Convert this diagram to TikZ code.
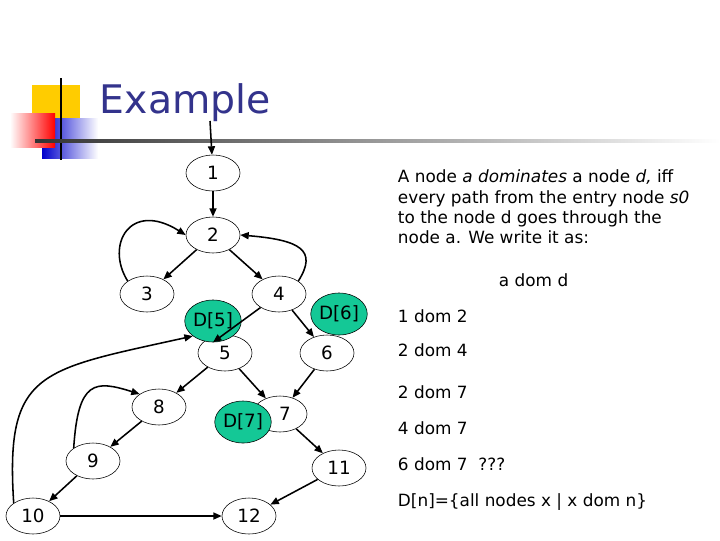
\documentclass[tikz,border=0pt]{standalone}
\usepackage{fontspec}
\setmainfont{DejaVu Sans}
\usetikzlibrary{arrows.meta,shapes.geometric}
\definecolor{titleblue}{RGB}{51,51,140}
\definecolor{domgreen}{RGB}{20,200,150}
\definecolor{logoyellow}{RGB}{255,204,0}
\tikzset{
  blk/.style={ellipse,draw,minimum width=1.35cm,minimum height=0.9cm,inner sep=0pt,font=\fontsize{13}{15}\selectfont},
  dombox/.style={ellipse,draw,fill=domgreen,minimum width=1.35cm,minimum height=1.05cm,inner sep=0pt,font=\fontsize{13}{15}\selectfont},
  edge/.style={-{Triangle[width=5pt,length=6pt]},line width=1.1pt},
  txt/.style={anchor=west,font=\fontsize{12}{14.5}\selectfont}
}
\begin{document}
\begin{tikzpicture}[x=0.025cm,y=-0.025cm]
  \useasboundingbox (0,0) rectangle (720,540);
  % logo and title bar
  \fill[logoyellow] (32,85) rectangle (80,120);
  \shade[left color=blue!80!black,right color=white] (42,118) rectangle (98,158);
  \shade[left color=white,right color=red] (10,113) rectangle (55,147);
  \draw[line width=1.3pt] (61,78) -- (61,160);
  \shade[left color=black!80,right color=white] (35,139.5) rectangle (720,142.5);
  \node[anchor=west,text=titleblue,font=\fontsize{28}{32}\selectfont] (title) at (95,103) {Example};
  % graph nodes
  \node[blk] (n1) at (213,173) {1};
  \node[blk] (n2) at (213,235) {2};
  \node[blk] (n3) at (147,294) {3};
  \node[blk] (n4) at (279,294) {4};
  \node[blk] (n5) at (225,353) {5};
  \node[blk] (n6) at (327,353) {6};
  \node[blk] (n8) at (159,407) {8};
  \node[blk] (n7) at (280,414) {\hspace*{0.25cm}7};
  \node[blk] (n9) at (93,461) {9};
  \node[blk] (n11) at (339,468) {11};
  \node[blk] (n10) at (33,516) {10};
  \node[blk] (n12) at (249,516) {12};
  % dominator sets
  \node[dombox] (d5) at (213,321) {D[5]};
  \node[dombox] (d6) at (339,314) {D[6]};
  \node[dombox] (d7) at (243,422) {D[7]};
  % edges
  \coordinate (entry) at (210,121);
  \draw[edge] (entry) -- (n1);
  \draw[edge] (n1) -- (n2);
  \draw[edge] (n2) -- (n3);
  \draw[edge] (n2) -- (n4);
  \draw[edge] (n3.north west) .. controls (105,245) and (130,200) .. (n2.west);
  \draw[edge] (n4.north east) .. controls (318,250) and (300,240) .. (n2.east);
  \draw[edge] (n4) -- (d5.south);
  \draw[edge] (n4) -- (n6);
  \draw[edge] (n5) -- (n8);
  \draw[edge] (n5) -- (n7);
  \draw[edge] (n6) -- (n7);
  \draw[edge] (n8) -- (n9);
  \draw[edge] (n9.north west) .. controls (78,380) and (95,380) .. (n8.north west);
  \draw[edge] (n9) -- (n10);
  \draw[edge] (n10.north west) .. controls (5,370) and (40,370) .. (d5.south west);
  \draw[edge] (n7) -- (n11);
  \draw[edge] (n11) -- (n12);
  \draw[edge] (n10) -- (n12);
  % explanation
  \node[txt,align=left] (def) at (393,207) {A node \textit{a dominates} a node \textit{d,} iff\\every path from the entry node \textit{s0}\\to the node d goes through the\\node a. We write it as:};
  \node[txt] (rel) at (494,280) {a dom d};
  \node[txt] (r1) at (393,316) {1 dom 2};
  \node[txt] (r2) at (393,350) {2 dom 4};
  \node[txt] (r3) at (393,392) {2 dom 7};
  \node[txt] (r4) at (393,428) {4 dom 7};
  \node[txt] (r5) at (393,464) {6 dom 7\ \ ???};
  \node[txt] (r6) at (393,502) {D[n]=\{all nodes x | x dom n\}};
\end{tikzpicture}
\end{document}
